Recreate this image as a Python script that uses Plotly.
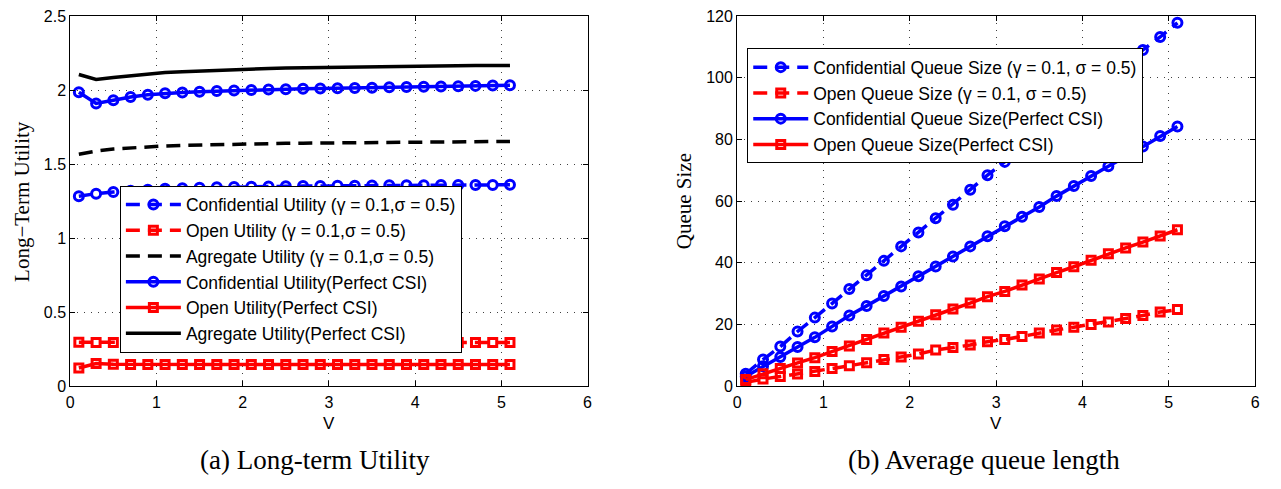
import plotly.graph_objects as go

# ---------------- data ----------------
V = [0.1, 0.3, 0.5, 0.7, 0.9, 1.1, 1.3, 1.5, 1.7, 1.9, 2.1, 2.3, 2.5,
     2.7, 2.9, 3.1, 3.3, 3.5, 3.7, 3.9, 4.1, 4.3, 4.5, 4.7, 4.9, 5.1]

# (a) Long-term utility
conf_util_gamma = [1.283, 1.300, 1.311, 1.320, 1.327, 1.333, 1.337, 1.340, 1.343, 1.345,
                   1.347, 1.349, 1.350, 1.351, 1.352, 1.353, 1.354, 1.355, 1.356, 1.357,
                   1.357, 1.358, 1.358, 1.359, 1.359, 1.360]
open_util_gamma = [0.296, 0.294, 0.295, 0.295, 0.294, 0.295, 0.295, 0.294, 0.295, 0.295,
                   0.294, 0.295, 0.295, 0.294, 0.295, 0.295, 0.294, 0.295, 0.295, 0.294,
                   0.295, 0.295, 0.294, 0.295, 0.295, 0.294]
agg_util_gamma = [1.566, 1.588, 1.602, 1.610, 1.617, 1.622, 1.626, 1.629, 1.632, 1.634,
                  1.636, 1.638, 1.640, 1.641, 1.642, 1.643, 1.644, 1.645, 1.646, 1.647,
                  1.648, 1.649, 1.650, 1.651, 1.652, 1.653]
conf_util_perfect = [1.985, 1.909, 1.931, 1.953, 1.968, 1.978, 1.984, 1.989, 1.993, 1.997,
                     2.000, 2.003, 2.006, 2.008, 2.010, 2.012, 2.014, 2.016, 2.018, 2.020,
                     2.022, 2.024, 2.026, 2.028, 2.030, 2.032]
open_util_perfect = [0.122, 0.152, 0.147, 0.146, 0.145, 0.145, 0.145, 0.145, 0.145, 0.145,
                     0.145, 0.145, 0.145, 0.145, 0.145, 0.145, 0.145, 0.145, 0.145, 0.145,
                     0.145, 0.145, 0.145, 0.145, 0.145, 0.145]
agg_util_perfect = [2.105, 2.072, 2.085, 2.098, 2.110, 2.118, 2.124, 2.129, 2.134, 2.138,
                    2.142, 2.145, 2.148, 2.150, 2.152, 2.154, 2.156, 2.158, 2.160, 2.161,
                    2.162, 2.163, 2.164, 2.165, 2.165, 2.166]

# (b) Average queue length
conf_q_gamma = [4.0, 8.6, 12.8, 17.7, 22.2, 26.8, 31.5, 35.9, 40.6, 45.3,
                49.8, 54.4, 58.8, 63.7, 68.4, 72.7, 77.0, 81.5, 86.1, 90.6,
                95.1, 99.7, 104.4, 109.0, 113.2, 117.8]
open_q_gamma = [1.2, 2.3, 3.1, 3.9, 4.7, 5.7, 6.6, 7.6, 8.6, 9.4,
                10.4, 11.7, 12.5, 13.3, 14.4, 15.1, 16.1, 17.2, 18.2, 19.1,
                20.0, 20.8, 21.9, 22.9, 24.0, 24.8]
conf_q_perfect = [3.1, 6.4, 9.4, 12.7, 15.8, 19.3, 22.9, 26.0, 29.2, 32.3,
                  35.6, 38.8, 42.0, 45.3, 48.6, 51.8, 54.9, 58.1, 61.6, 64.9,
                  68.1, 71.3, 74.4, 77.7, 81.1, 84.2]
open_q_perfect = [2.1, 4.0, 5.7, 7.5, 9.2, 11.2, 13.0, 15.1, 17.2, 19.1,
                  21.0, 23.1, 25.0, 26.9, 29.0, 30.7, 32.8, 34.7, 36.8, 38.7,
                  40.8, 42.9, 44.8, 46.7, 48.7, 50.7]

util_names = ["Confidential Utility (γ = 0.1,σ = 0.5)",
              "Open Utility (γ = 0.1,σ = 0.5)",
              "Agregate Utility (γ = 0.1,σ = 0.5)",
              "Confidential Utility(Perfect CSI)",
              "Open Utility(Perfect CSI)",
              "Agregate Utility(Perfect CSI)"]
queue_names = ["Confidential Queue Size (γ = 0.1, σ = 0.5)",
               "Open Queue Size (γ = 0.1, σ = 0.5)",
               "Confidential Queue Size(Perfect CSI)",
               "Open Queue Size(Perfect CSI)"]

BLUE = "#0000FF"
RED = "#FF0000"
BLACK = "#000000"
DASH = "14px,8px"
LW = 3.5

W, H = 1281, 489


def px_x(p):
    return p / W


def px_y(p):
    return 1 - p / H


fig = go.Figure()


def add(x, y, name, color, dash, symbol, msize, xa, ya, legend, group):
    mode = "lines+markers" if symbol else "lines"
    marker = dict(symbol=symbol, size=msize, color=color,
                  line=dict(color=color, width=3)) if symbol else None
    fig.add_trace(go.Scatter(
        x=x, y=y, name=name, mode=mode,
        line=dict(color=color, width=LW, dash=dash),
        marker=marker, xaxis=xa, yaxis=ya, legend=legend,
        legendgroup=group, showlegend=True))


add(V, conf_util_gamma, util_names[0], BLUE, DASH, "circle-open", 9, "x", "y", "legend", "a1")
add(V, open_util_gamma, util_names[1], RED, DASH, "square-open", 8, "x", "y", "legend", "a2")
add(V, agg_util_gamma, util_names[2], BLACK, DASH, None, 0, "x", "y", "legend", "a3")
add(V, conf_util_perfect, util_names[3], BLUE, "solid", "circle-open", 9, "x", "y", "legend", "a4")
add(V, open_util_perfect, util_names[4], RED, "solid", "square-open", 8, "x", "y", "legend", "a5")
add(V, agg_util_perfect, util_names[5], BLACK, "solid", None, 0, "x", "y", "legend", "a6")

add(V, conf_q_gamma, queue_names[0], BLUE, DASH, "circle-open", 9, "x2", "y2", "legend2", "b1")
add(V, open_q_gamma, queue_names[1], RED, DASH, "square-open", 8, "x2", "y2", "legend2", "b2")
add(V, conf_q_perfect, queue_names[2], BLUE, "solid", "circle-open", 9, "x2", "y2", "legend2", "b3")
add(V, open_q_perfect, queue_names[3], RED, "solid", "square-open", 8, "x2", "y2", "legend2", "b4")

TICKFONT = dict(family="Liberation Sans, Arial, sans-serif", size=16, color="black")
axis_common = dict(
    showline=True, linecolor="black", linewidth=1, mirror="ticks",
    ticks="inside", ticklen=5, tickcolor="black", tickwidth=1,
    showgrid=True, gridcolor="rgba(0,0,0,0.75)", griddash="1px,6px", gridwidth=1,
    zeroline=False, tickfont=TICKFONT, fixedrange=True,
    ticklabeloverflow="allow",
)

fig.update_layout(
    width=W, height=H,
    margin=dict(l=0, r=0, t=0, b=0),
    paper_bgcolor="white", plot_bgcolor="white",
    xaxis=dict(domain=[px_x(66.7), px_x(587.7)], range=[0, 6], dtick=1, tick0=0,
               anchor="y", ticklabelstandoff=2, **axis_common),
    yaxis=dict(domain=[px_y(391.7), px_y(8.3)], range=[0, 2.5], dtick=0.5, tick0=0,
               anchor="x", **axis_common),
    xaxis2=dict(domain=[px_x(738.3), px_x(1260)], range=[0, 6], dtick=1, tick0=0,
                anchor="y2", ticklabelstandoff=2, **axis_common),
    yaxis2=dict(domain=[px_y(391.7), px_y(8.3)], range=[0, 120], dtick=20, tick0=0,
                anchor="x2", **axis_common),
    legend=dict(x=px_x(116.7), y=px_y(184), xanchor="left", yanchor="top",
                bgcolor="white", bordercolor="black", borderwidth=1,
                font=dict(family="Liberation Sans, Arial, sans-serif", size=17.5, color="black"),
                tracegroupgap=0, itemwidth=55),
    legend2=dict(x=px_x(748.5), y=px_y(41.7), xanchor="left", yanchor="top",
                 bgcolor="white", bordercolor="black", borderwidth=1,
                 font=dict(family="Liberation Sans, Arial, sans-serif", size=17.5, color="black"),
                 tracegroupgap=0, itemwidth=55),
    showlegend=True,
)

SERIF = "Liberation Serif, Times New Roman, serif"
ann = [
    dict(text="Long−Term Utility", x=px_x(18), y=px_y(200), textangle=-90,
         font=dict(family=SERIF, size=21, color="black")),
    dict(text="Queue Size", x=px_x(685), y=px_y(200), textangle=-90,
         font=dict(family=SERIF, size=21, color="black")),
    dict(text="V", x=px_x((66.7 + 587.7) / 2), y=px_y(430),
         font=dict(family="Liberation Sans, Arial, sans-serif", size=17, color="black")),
    dict(text="V", x=px_x((738.3 + 1260) / 2), y=px_y(430),
         font=dict(family="Liberation Sans, Arial, sans-serif", size=17, color="black")),
    dict(text="(a) Long-term Utility", x=px_x(313), y=px_y(468),
         font=dict(family=SERIF, size=27, color="black")),
    dict(text="(b) Average queue length", x=px_x(987), y=px_y(468),
         font=dict(family=SERIF, size=27, color="black")),
]
for a in ann:
    a.update(xref="paper", yref="paper", showarrow=False, xanchor="center", yanchor="middle")
fig.update_layout(annotations=ann)

fig.write_html("out.html")
